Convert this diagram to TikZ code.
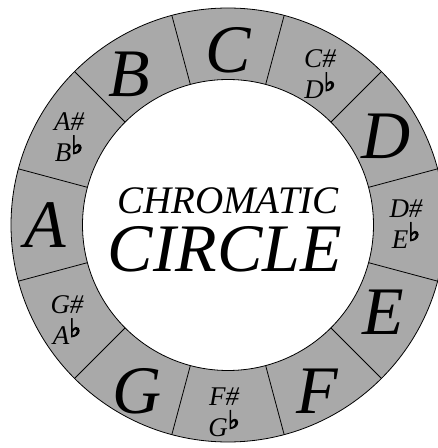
\documentclass[tikz,border=0pt]{standalone}
\usepackage{fontspec}
\usetikzlibrary{calc}
\setmainfont{Liberation Serif}
\newfontfamily\symfont[FakeBold=4]{DejaVu Sans}
\definecolor{ringgray}{RGB}{169,169,169}
\newcommand{\flt}{\raisebox{0.28em}{\symfont\fontsize{25}{25}\selectfont ♭}}
\tikzset{
  big/.style={inner sep=0pt, font=\itshape\fontsize{68}{68}\selectfont},
  small/.style={inner sep=0pt, align=center, font=\itshape\fontsize{27}{31}\selectfont},
}
\begin{document}
\begin{tikzpicture}[x=1pt,y=1pt]
\useasboundingbox (0,0) rectangle (438,448);
\clip (0,0) rectangle (438,448);
\coordinate (O) at (228,223);
\fill[ringgray,even odd rule] (O) circle (217) (O) circle (145.5);
\draw[line width=0.8pt] (O) circle (217);
\draw[line width=0.8pt] (O) circle (145.5);
\foreach \a in {15,45,...,345}{
  \draw[line width=0.8pt] ($(O)+(\a:145.5)$) -- ($(O)+(\a:217)$);
}
\node[big] (nC) at (228,398) {C};
\node[big] (nB) at (129,373.5) {B};
\node[big] (nA) at (45,223) {A};
\node[big] (nD) at (386,312) {D};
\node[big] (nE) at (383,136) {E};
\node[big] (nF) at (317,57) {F};
\node[big] (nG) at (137,57) {G};
\node[small] (nCs) at (320,374) {C\#\\D\flt};
\node[small] (nDs) at (406,224) {D\#\\E\flt};
\node[small] (nFs) at (224,36) {F\#\\G\flt};
\node[small] (nGs) at (67,128) {G\#\\A\flt};
\node[small] (nAs) at (69,311) {A\#\\B\flt};
\node[inner sep=0pt, font=\itshape\fontsize{39}{39}\selectfont] (t1) at (228,247.5) {CHROMATIC};
\node[inner sep=0pt, font=\itshape\fontsize{68}{68}\selectfont] (t2) at (225,198.5) {CIRCLE};
\end{tikzpicture}
\end{document}
